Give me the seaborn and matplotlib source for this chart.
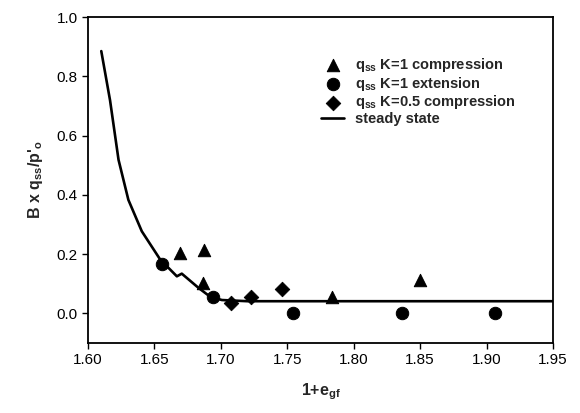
import matplotlib
matplotlib.use("Agg")
import matplotlib.pyplot as plt
import seaborn as sns
import pandas as pd

# Data
comp_k1_x = [1.669, 1.687, 1.6865, 1.784, 1.850]
comp_k1_y = [0.204, 0.215, 0.103, 0.056, 0.112]
ext_k1_x = [1.656, 1.694, 1.754, 1.836, 1.906]
ext_k1_y = [0.167, 0.056, 0.0, 0.0, 0.0]
comp_k05_x = [1.708, 1.723, 1.746]
comp_k05_y = [0.036, 0.056, 0.083]
ss_x = [1.610, 1.6166, 1.623, 1.6304, 1.6405, 1.6543, 1.6669, 1.6706, 1.6832, 1.692, 1.7008, 1.720, 1.95]
ss_y = [0.885, 0.719, 0.518, 0.383, 0.277, 0.182, 0.125, 0.134, 0.086, 0.056, 0.045, 0.041, 0.041]

labels = [r"$\mathregular{q_{ss}}$ K=1 compression",
          r"$\mathregular{q_{ss}}$ K=1 extension",
          r"$\mathregular{q_{ss}}$ K=0.5 compression",
          "steady state"]

sns.set_theme(style="ticks")
plt.rcParams['font.family'] = ['Liberation Sans', 'DejaVu Sans']
plt.rcParams['mathtext.fontset'] = 'custom'
plt.rcParams['mathtext.rm'] = 'Liberation Sans'
plt.rcParams['mathtext.it'] = 'Liberation Sans'
plt.rcParams['mathtext.bf'] = 'Liberation Sans:bold'

fig = plt.figure(figsize=(5.8, 4.13), dpi=100)
ax = fig.add_axes([0.1517, 0.1695, 0.8017, 0.7893])

df1 = pd.DataFrame({"x": comp_k1_x, "y": comp_k1_y})
df2 = pd.DataFrame({"x": ext_k1_x, "y": ext_k1_y})
df3 = pd.DataFrame({"x": comp_k05_x, "y": comp_k05_y})
dfl = pd.DataFrame({"x": ss_x, "y": ss_y})

sns.lineplot(data=dfl, x="x", y="y", ax=ax, color="black", lw=1.9, label=labels[3],
             sort=False, estimator=None, zorder=2)
sns.scatterplot(data=df1, x="x", y="y", ax=ax, marker="^", s=80, color="black",
                edgecolor="black", label=labels[0], zorder=3)
sns.scatterplot(data=df2, x="x", y="y", ax=ax, marker="o", s=80, color="black",
                edgecolor="black", label=labels[1], zorder=3)
sns.scatterplot(data=df3, x="x", y="y", ax=ax, marker="D", s=55, color="black",
                edgecolor="black", label=labels[2], zorder=3)

ax.set_xlim(1.60, 1.95)
ax.set_ylim(-0.1, 1.0)
ax.set_xticks([1.60, 1.65, 1.70, 1.75, 1.80, 1.85, 1.90, 1.95])
ax.set_xticklabels(["1.60", "1.65", "1.70", "1.75", "1.80", "1.85", "1.90", "1.95"])
ax.set_yticks([0.0, 0.2, 0.4, 0.6, 0.8, 1.0])
ax.set_yticklabels(["0.0", "0.2", "0.4", "0.6", "0.8", "1.0"])
ax.tick_params(axis="both", direction="out", length=4, width=1, labelsize=11, colors="black")
for s in ax.spines.values():
    s.set_linewidth(1.3)
    s.set_color("black")

ax.set_xlabel(r"1+e$\mathregular{_{gf}}$", fontsize=11.5, fontweight="bold", labelpad=10)
ax.set_ylabel(r"B x $\mathbf{q_{ss}}$/p$\mathbf{'_{o}}$", fontsize=11.5, fontweight="bold", labelpad=8)

handles, labs = ax.get_legend_handles_labels()
order = [labs.index(l) for l in labels]
leg = ax.legend([handles[i] for i in order], [labs[i] for i in order],
                loc="upper left", bbox_to_anchor=(0.473, 0.92), frameon=False,
                prop={"size": 10.5, "weight": "bold"}, handlelength=1.6,
                labelspacing=0.04, handletextpad=0.75)
for t in leg.get_texts():
    t.set_fontweight("bold")

fig.savefig("out.png", dpi=100)
